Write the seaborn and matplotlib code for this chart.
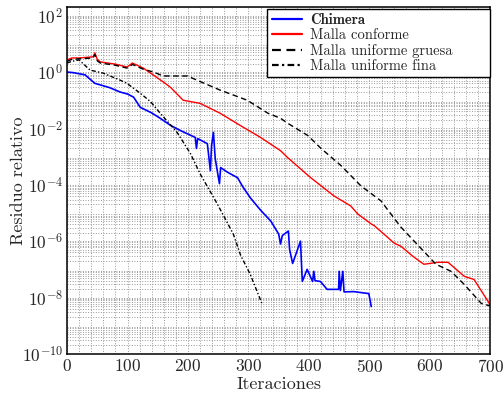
import numpy as np
import pandas as pd
import seaborn as sns
import matplotlib
matplotlib.use("Agg")
import matplotlib.pyplot as plt
from matplotlib.ticker import LogLocator, MultipleLocator, NullFormatter

# Chimera (iteration, log10 residual)
chimera_it = [0, 10, 30, 33, 46, 70, 88, 100, 110, 121, 140, 154, 171, 187,
              205, 212, 214, 216, 232, 237, 239, 242, 245, 252, 254, 265, 282,
              290, 303, 320, 337, 350, 353, 356, 366, 368, 373, 386, 389, 397,
              406, 408, 410, 419, 430, 449, 450, 452, 456, 458, 474, 499, 503]
chimera_log = [0.0, -0.02, -0.1, -0.16, -0.4, -0.55, -0.71, -0.78, -0.89,
               -1.25, -1.45, -1.64, -1.89, -2.07, -2.25, -2.32, -2.71, -2.36,
               -2.54, -3.5, -2.6, -2.14, -3.07, -3.96, -3.39, -3.55, -3.75,
               -4.05, -4.46, -4.9, -5.29, -5.75, -6.1, -5.8, -5.64, -6.3,
               -6.79, -6.0, -7.43, -7.0, -7.43, -7.07, -7.4, -7.43, -7.71,
               -7.71, -7.07, -7.75, -7.07, -7.8, -7.79, -7.86, -8.32]

# Malla conforme
conforme_it = [0, 8, 20, 43, 46, 50, 55, 80, 99, 104, 108, 126, 143, 159, 171,
               192, 220, 253, 286, 320, 353, 365, 403, 441, 469, 481, 503,
               508, 541, 552, 572, 590, 613, 630, 657, 673, 698, 700]
conforme_log = [0.43, 0.5, 0.5, 0.54, 0.68, 0.45, 0.36, 0.28, 0.18, 0.25, 0.32,
                0.14, -0.11, -0.35, -0.54, -1.0, -1.11, -1.46, -1.89, -2.32,
                -2.79, -3.04, -3.75, -4.39, -4.75, -5.04, -5.39, -5.45, -6.07,
                -6.18, -6.54, -6.82, -6.75, -6.75, -7.25, -7.36, -8.2, -8.3]

# Malla uniforme gruesa
gruesa_it = [0, 8, 20, 43, 46, 50, 55, 80, 99, 104, 108, 126, 143, 159, 199,
             215, 253, 298, 332, 353, 365, 398, 420, 453, 486, 519, 552, 585,
             610, 635, 657, 685, 700]
gruesa_log = [0.38, 0.45, 0.47, 0.5, 0.62, 0.4, 0.32, 0.24, 0.14, 0.2, 0.27,
              0.1, 0.0, -0.14, -0.14, -0.29, -0.64, -1.0, -1.46, -1.64, -1.82,
              -2.25, -2.71, -3.32, -4.04, -4.57, -5.5, -6.25, -6.82, -7.07,
              -7.54, -8.21, -8.3]

# Malla uniforme fina
fina_it = [0, 8, 20, 38, 60, 88, 99, 121, 138, 154, 182, 204, 220, 249, 275,
           287, 303, 322]
fina_log = [0.32, 0.38, 0.43, 0.07, -0.04, -0.29, -0.4, -0.75, -1.05, -1.46,
            -2.14, -2.89, -3.61, -4.7, -5.75, -6.5, -7.18, -8.2]

sns.set_style("ticks")
plt.rcParams["font.family"] = "serif"
plt.rcParams["font.serif"] = ["cmr10"]
plt.rcParams["mathtext.fontset"] = "cm"
plt.rcParams["axes.formatter.use_mathtext"] = True
plt.rcParams["axes.unicode_minus"] = False

fig = plt.figure(figsize=(5.04, 3.99), dpi=100)
ax = fig.add_axes([0.133, 0.113, 0.840, 0.869])

series = [
    ("Chimera", chimera_it, chimera_log, "#0000ff", "-", 1.2),
    ("Malla conforme", conforme_it, conforme_log, "#ff0000", "-", 1.0),
    ("Malla uniforme gruesa", gruesa_it, gruesa_log, "black", (0, (4, 2.5)), 1.0),
    ("Malla uniforme fina", fina_it, fina_log, "black", (0, (3, 1.5, 1, 1.5)), 1.0),
]
for name, it, lg, col, ls, lw in series:
    df = pd.DataFrame({"it": it, "res": 10.0 ** np.array(lg)})
    sns.lineplot(data=df, x="it", y="res", ax=ax, color=col, linestyle=ls,
                 lw=lw, estimator=None, sort=False, label=name)

ax.set_yscale("log")
ax.set_xlim(0, 700)
ax.set_ylim(1e-10, 2e2)
ax.set_yticks([1e-10, 1e-8, 1e-6, 1e-4, 1e-2, 1e0, 1e2])
ax.yaxis.set_minor_locator(LogLocator(base=10, subs=np.arange(2, 10), numticks=50))
ax.yaxis.set_minor_formatter(NullFormatter())
ax.xaxis.set_major_locator(MultipleLocator(100))
ax.xaxis.set_minor_locator(MultipleLocator(20))
ax.tick_params(which="both", direction="in", length=0, labelsize=12.5, pad=3)
ax.grid(which="both", color="#9a9a9a", linestyle=":", linewidth=0.7)
for s in ax.spines.values():
    s.set_color("black")
    s.set_linewidth(1.1)

ax.set_xlabel("Iteraciones", fontsize=13, labelpad=1)
ax.set_ylabel("Residuo relativo", fontsize=13)
ax.yaxis.set_label_coords(-0.097, 0.5)

leg = ax.legend(loc="upper left", bbox_to_anchor=(0.473, 0.795, 0.525, 0.2),
                mode="expand", fontsize=10.5, frameon=True, fancybox=False,
                framealpha=1, edgecolor="black", borderaxespad=0,
                labelspacing=0.1, handlelength=2.1, handletextpad=0.55,
                borderpad=0.3)
leg.get_frame().set_linewidth(1.0)
for h in leg.get_lines():
    h.set_linewidth(1.6)
leg.get_texts()[0].set_fontfamily("cmb10")

fig.savefig("out.png", dpi=100)
